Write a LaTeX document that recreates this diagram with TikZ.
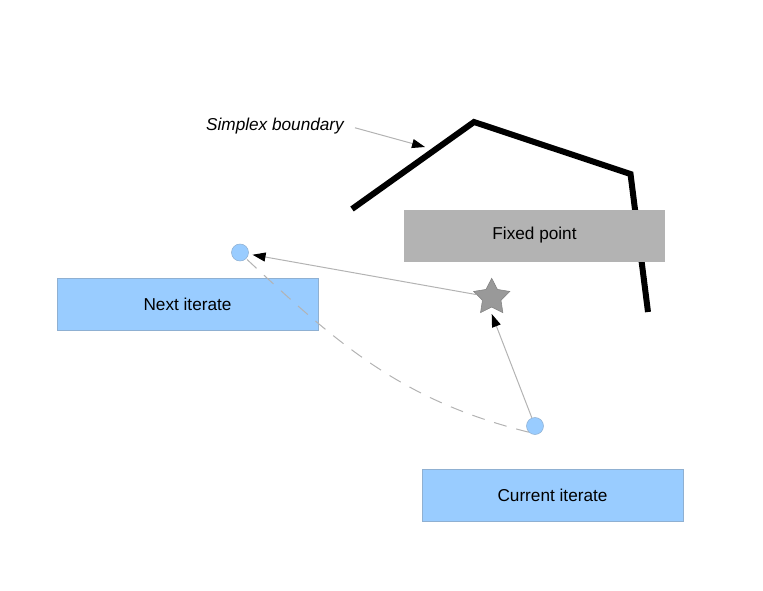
\documentclass[tikz,border=0pt]{standalone}
\usepackage{fontspec}
\setmainfont{Liberation Sans}
\usetikzlibrary{shapes.geometric,arrows.meta}
\definecolor{iterblue}{HTML}{99CCFF}
\definecolor{iteredge}{HTML}{8FB0D2}
\definecolor{fixgray}{HTML}{B3B3B3}
\definecolor{stargray}{HTML}{999999}
\definecolor{linegray}{HTML}{B3B3B3}

\begin{document}
\begin{tikzpicture}[
        x=0.75pt, y=-0.75pt,
        font=\fontsize{12.9}{15}\selectfont,
        box/.style={rectangle, minimum width=195.75pt, minimum height=39pt, inner sep=0pt},
        iterbox/.style={box, fill=iterblue, draw=iteredge, line width=0.4pt},
        fixbox/.style={box, fill=fixgray},
        point/.style={circle, fill=iterblue, draw=iteredge, minimum size=12.75pt, inner sep=0pt},
        pointer/.style={draw=linegray, line width=0.75pt, -{Triangle[length=9.75pt,width=6.75pt,black]}},
        boundary/.style={line width=4.5pt}
    ]
        \useasboundingbox (0,0) rectangle (763,590);

        \draw[boundary] (352,209) -- (474,122) -- (630.5,174) -- (648,312);

        \node[fixbox] (fix) at (534.5,235.5) {Fixed point};
        \node[iterbox] (next) at (187.5,304) {Next iterate};
        \node[iterbox] (cur) at (552.5,495.5) {Current iterate};

        \node[point] (c1) at (240,252.5) {};
        \node[point] (c2) at (535,426) {};
        \node[star, star points=5, star point ratio=1.95, minimum size=28.5pt, inner sep=0pt,
              fill=stargray, draw=gray, line width=0.4pt] (fp) at (491.7,297.3) {};

        \node[font=\fontsize{12.9}{15}\selectfont\itshape] (sb) at (275,126) {Simplex boundary};
        \coordinate (sbtip) at (425,147);

        \draw[pointer, shorten <=5pt] (sb.east) -- (sbtip);
        \draw[pointer, shorten >=3pt] (fp) -- (c1);
        \draw[pointer] (c2) -- ([yshift=-12.5pt]fp.center);
        \draw[linegray, line width=0.75pt, dash pattern=on 9.75pt off 7.5pt]
            (c2.south west) to[out=166, in=-43] (c1.south east);
    \end{tikzpicture}
\end{document}
